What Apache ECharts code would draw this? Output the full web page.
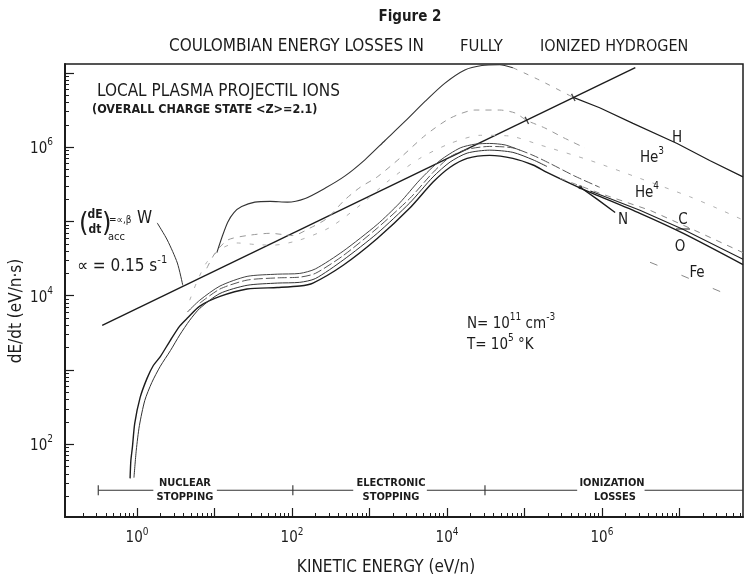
<!DOCTYPE html>
<html><head><meta charset="utf-8">
<script src="https://cdn.jsdelivr.net/npm/echarts@6.0.0/dist/echarts.min.js"></script>
<style>html,body{margin:0;padding:0;background:#fff}#c{width:746px;height:579px}</style>
</head><body><div id="c"></div>
<script>
// Values are stored as log10: x = log10(kinetic energy, eV/n), y = log10(dE/dt, eV/n·s)
const xRange = [-0.93, 7.82];
const yRange = [1.02, 7.12];
const xMajorTicks = [0, 1, 2, 3, 4, 5, 6, 7];
const xLabelTicks = [0, 2, 4, 6];
const yMajorTicks = [2, 3, 4, 5, 6, 7];
const yLabelTicks = [2, 4, 6];
const minorMultipliers = [2, 3, 4, 5, 6, 7, 8, 9];

const accelerationLine = [[-0.45, 3.60], [6.43, 7.07]];
const leaderLine = [[0.26, 4.98], [0.39, 4.75], [0.52, 4.44], [0.59, 4.14]];
const accCrossings = [[5.03, 6.36], [5.63, 6.67]];

const hRise = [[1.03,4.58],[1.10,4.80],[1.17,4.99],[1.25,5.12],[1.35,5.20],[1.52,5.26],[1.72,5.27],[1.94,5.26],[2.17,5.31],[2.43,5.45],[2.68,5.61],[2.94,5.83],[3.20,6.09],[3.46,6.35],[3.72,6.62],[3.97,6.86],[4.23,7.04],[4.45,7.10],[4.68,7.11],[4.85,7.07]];
const hDescent = [[4.85,7.07],[5.20,6.90],[5.63,6.67]];
const hHigh = [[5.63,6.67],[5.97,6.53],[6.40,6.32],[6.97,6.05],[7.39,5.82],[7.82,5.60]];

const he3Curve = [[0.90,4.37],[1.01,4.58],[1.17,4.75],[1.42,4.81],[1.72,4.84],[2.01,4.81],[2.23,4.91],[2.45,5.04],[2.68,5.29],[2.88,5.46],[3.10,5.60],[3.39,5.85],[3.72,6.16],[4.04,6.39],[4.36,6.50],[4.68,6.50],[4.88,6.46],[5.03,6.36],[5.26,6.26],[5.50,6.13],[5.78,5.99]];
const he4Curve = [[0.68,3.94],[0.77,4.18],[0.90,4.45],[1.10,4.64],[1.29,4.71],[1.52,4.69],[1.75,4.68],[2.10,4.75],[2.49,4.92],[2.88,5.22],[3.26,5.56],[3.65,5.85],[4.04,6.05],[4.43,6.16],[4.81,6.15],[5.20,6.03],[5.85,5.82],[6.49,5.58],[7.14,5.33],[7.48,5.18],[7.82,5.02]];

const oCurve = [[-0.09,1.54],[-0.08,1.78],[-0.06,1.96],[-0.03,2.28],[0.04,2.63],[0.13,2.89],[0.21,3.06],[0.30,3.18],[0.43,3.40],[0.55,3.59],[0.65,3.70],[0.81,3.86],[1.07,3.99],[1.42,4.09],[1.81,4.11],[2.10,4.13],[2.27,4.17],[2.66,4.41],[3.10,4.77],[3.52,5.18],[3.82,5.53],[4.04,5.73],[4.26,5.85],[4.55,5.89],[4.85,5.85],[5.11,5.76],[5.29,5.66],[5.72,5.45],[6.49,5.11],[7.05,4.84],[7.82,4.42]];
const bundleCurve2 = [[-0.04,1.55],[-0.01,1.92],[0.03,2.25],[0.10,2.59],[0.19,2.83],[0.30,3.05],[0.43,3.26],[0.55,3.47],[0.68,3.67],[0.81,3.83],[1.07,4.03],[1.42,4.14],[1.81,4.17],[2.10,4.18],[2.30,4.23],[2.66,4.48],[3.10,4.84],[3.52,5.25],[3.82,5.60],[4.04,5.80],[4.26,5.92],[4.55,5.96],[4.85,5.93],[5.11,5.83],[5.29,5.74]];
const bundleCurve3 = [[0.81,3.90],[1.07,4.09],[1.42,4.21],[1.81,4.24],[2.10,4.25],[2.30,4.30],[2.66,4.54],[3.10,4.91],[3.52,5.31],[3.82,5.66],[4.04,5.87],[4.26,5.97],[4.55,6.01],[4.85,5.99],[5.11,5.89],[5.33,5.78],[5.65,5.61],[5.97,5.46]];
const bundleCurve4 = [[0.65,3.78],[0.81,3.94],[1.07,4.13],[1.42,4.26],[1.81,4.29],[2.10,4.30],[2.30,4.36],[2.66,4.60],[3.10,4.96],[3.39,5.25],[3.65,5.56],[3.91,5.82],[4.17,5.99],[4.36,6.04],[4.55,6.05],[4.75,6.03],[4.94,5.96]];
const cLine = [[5.85,5.41],[6.49,5.15],[7.05,4.89],[7.82,4.49]];
const upperDashedLine = [[5.46,5.58],[5.97,5.38],[6.62,5.15],[7.26,4.85],[7.82,4.58]];
const nLine = [[5.72,5.46],[5.95,5.29],[6.17,5.12]];
const nJunction = [[5.72, 5.46]];
const feLine = [[6.62,4.45],[6.81,4.37],[7.63,4.01],[7.82,3.92]];

const stoppingBarY = 1.38;
const stoppingSegments = [[-0.50, 0.21], [1.03, 2.79], [3.74, 5.68], [6.55, 7.82]];
const stoppingMarks = [-0.50, 2.01, 4.49];

const FONT = "'DejaVu Sans Condensed','Liberation Sans Narrow','Roboto Condensed',Roboto,sans-serif";
const INK = '#1c1c1c';

function minorValues(range) {
  const out = [];
  for (let k = Math.floor(range[0]); k <= Math.ceil(range[1]); k++) {
    for (const m of minorMultipliers) {
      const v = k + Math.log10(m);
      if (v > range[0] && v < range[1]) out.push(v);
    }
  }
  return out;
}
const supRich = {
  b: { fontSize: 15, fontFamily: FONT, color: INK, verticalAlign: 'bottom', lineHeight: 19 },
  s: { fontSize: 10, fontFamily: FONT, color: INK, verticalAlign: 'top', lineHeight: 19 }
};
const powLabel = v => '{b|10}{s|' + Math.round(v) + '}';

function L(data, color, width, type, extra) {
  return Object.assign({
    type: 'line', data: data, showSymbol: false, symbol: 'none', smooth: 0.25,
    silent: true, animation: false, clip: true,
    lineStyle: { color: color, width: width, type: type || 'solid' }
  }, extra || {});
}

const series = [
  L(accelerationLine, INK, 1.4, 'solid', { smooth: false }),
  L(leaderLine, '#333', 1, 'solid'),
  L(hRise, '#333', 1.1, 'solid'),
  L(hDescent, '#999', 1, [5, 7]),
  L(hHigh, INK, 1.2, 'solid', { smooth: false }),
  L(he3Curve, '#9a9a9a', 1, [6, 6]),
  L(he4Curve, '#b0b0b0', 1, [4, 9]),
  L(oCurve, INK, 1.4, 'solid'),
  L(bundleCurve2, '#333', 1, 'solid'),
  L(bundleCurve3, '#555', 1, [9, 3]),
  L(bundleCurve4, '#444', 1, 'solid'),
  L(cLine, '#222', 1.1, 'solid', { smooth: false }),
  L(upperDashedLine, '#8a8a8a', 1, [6, 6], { smooth: false }),
  L(nLine, INK, 1.4, 'solid', { smooth: false }),
  L(feLine, '#888', 1, [8, 26], { smooth: false }),
  { type: 'scatter', data: nJunction, symbol: 'circle', symbolSize: 4, itemStyle: { color: INK }, silent: true, animation: false },
  { type: 'scatter', data: accCrossings, symbol: 'rect', symbolSize: [1.4, 8], symbolRotate: 26, itemStyle: { color: INK }, silent: true, animation: false }
];
stoppingSegments.forEach(seg => {
  series.push(L([[seg[0], stoppingBarY], [seg[1], stoppingBarY]], '#333', 1, 'solid', { smooth: false }));
});
series.push({ type: 'scatter', data: stoppingMarks.map(x => [x, stoppingBarY]), symbol: 'rect', symbolSize: [1.4, 10], itemStyle: { color: '#333' }, silent: true, animation: false });

function T(x, y, text, font, extra) {
  return { type: 'text', x: x, y: y, silent: true, z: 100,
    style: Object.assign({ text: text, font: font, fill: INK, textAlign: 'left', textVerticalAlign: 'middle' }, extra || {}) };
}
function rich(size) {
  return {
    b: { fontSize: size, fontFamily: FONT, fill: INK, color: INK, verticalAlign: 'bottom', lineHeight: size + 4 },
    s: { fontSize: Math.round(size * 0.65), fontFamily: FONT, fill: INK, color: INK, verticalAlign: 'top', lineHeight: size + 4 }
  };
}

const graphics = [
  T(410, 17, 'Figure 2', 'bold 15px ' + FONT, { textAlign: 'center' }),
  T(169, 47, 'COULOMBIAN ENERGY LOSSES IN', '17px ' + FONT),
  T(460, 47, 'FULLY', '16.5px ' + FONT),
  T(540, 47, 'IONIZED HYDROGEN', '16px ' + FONT),
  T(97, 92, 'LOCAL PLASMA PROJECTIL IONS', '17px ' + FONT),
  T(92, 110, '(OVERALL CHARGE STATE <Z>=2.1)', 'bold 12.5px ' + FONT),
  T(79, 224, '(', '27px ' + FONT),
  T(95, 215, 'dE', 'bold 12px ' + FONT, { textAlign: 'center' }),
  T(95, 230, 'dt', 'bold 12px ' + FONT, { textAlign: 'center' }),
  T(102, 224, ')', '27px ' + FONT),
  T(108, 237, 'acc', '11px ' + FONT),
  T(109, 220, '=∝,β', '10px ' + FONT),
  T(137, 219, 'W', '17px ' + FONT),
  T(77, 265, '{b|∝ = 0.15 s}{s|-1}', '17px ' + FONT, { rich: rich(17) }),
  T(467, 322, '{b|N= 10}{s|11}{b| cm}{s|-3}', '15px ' + FONT, { rich: rich(15) }),
  T(467, 343, '{b|T= 10}{s|5}{b| °K}', '15px ' + FONT, { rich: rich(15) }),
  T(677, 138, 'H', '15px ' + FONT, { textAlign: 'center' }),
  T(652, 156, '{b|He}{s|3}', '15px ' + FONT, { textAlign: 'center', rich: rich(15) }),
  T(647, 191, '{b|He}{s|4}', '15px ' + FONT, { textAlign: 'center', rich: rich(15) }),
  T(623, 220, 'N', '15px ' + FONT, { textAlign: 'center' }),
  T(683, 220, 'C', '15px ' + FONT, { textAlign: 'center' }),
  { type: 'line', silent: true, z: 100, shape: { x1: 676, y1: 229, x2: 690, y2: 229 }, style: { stroke: INK, lineWidth: 1 } },
  T(680, 247, 'O', '15px ' + FONT, { textAlign: 'center' }),
  T(697, 273, 'Fe', '15px ' + FONT, { textAlign: 'center' }),
  T(185, 483, 'NUCLEAR', 'bold 11px ' + FONT, { textAlign: 'center' }),
  T(185, 497, 'STOPPING', 'bold 11px ' + FONT, { textAlign: 'center' }),
  T(391, 483, 'ELECTRONIC', 'bold 11px ' + FONT, { textAlign: 'center' }),
  T(391, 497, 'STOPPING', 'bold 11px ' + FONT, { textAlign: 'center' }),
  T(612, 483, 'IONIZATION', 'bold 11px ' + FONT, { textAlign: 'center' }),
  T(615, 497, 'LOSSES', 'bold 11px ' + FONT, { textAlign: 'center' }),
  T(386, 568, 'KINETIC ENERGY (eV/n)', '17px ' + FONT, { textAlign: 'center' }),
  { type: 'text', x: 17, y: 311, rotation: Math.PI / 2, silent: true, z: 100,
    style: { text: 'dE/dt (eV/n·s)', font: '17px ' + FONT, fill: INK, textAlign: 'center', textVerticalAlign: 'middle' } }
];

function axisPair(kind, range, major, labels) {
  const base = { type: 'value', min: range[0], max: range[1], splitLine: { show: false } };
  const pos = kind === 'x' ? 'bottom' : 'left';
  const main = Object.assign({}, base, {
    position: pos,
    axisLine: { show: true, onZero: false, lineStyle: { color: INK, width: 2 } },
    axisTick: { show: true, inside: true, length: 9, customValues: major, lineStyle: { color: INK, width: 1.2 } },
    axisLabel: { show: true, customValues: labels, formatter: powLabel, rich: supRich, margin: kind === 'x' ? 10 : 12, color: INK }
  });
  const minor = Object.assign({}, base, {
    position: pos,
    axisLine: { show: false, onZero: false },
    axisTick: { show: true, inside: true, length: 4, customValues: minorValues(range), lineStyle: { color: INK, width: 1 } },
    axisLabel: { show: false }
  });
  return [main, minor];
}

const chart = echarts.init(document.getElementById('c'), null, { renderer: 'canvas' });
chart.setOption({
  backgroundColor: '#fff',
  animation: false,
  grid: { left: 65, right: 3, top: 64, bottom: 62, show: true, borderColor: INK, borderWidth: 1.5, backgroundColor: 'transparent' },
  xAxis: axisPair('x', xRange, xMajorTicks, xLabelTicks),
  yAxis: axisPair('y', yRange, yMajorTicks, yLabelTicks),
  series: series,
  graphic: graphics
});
</script>
</body></html>
